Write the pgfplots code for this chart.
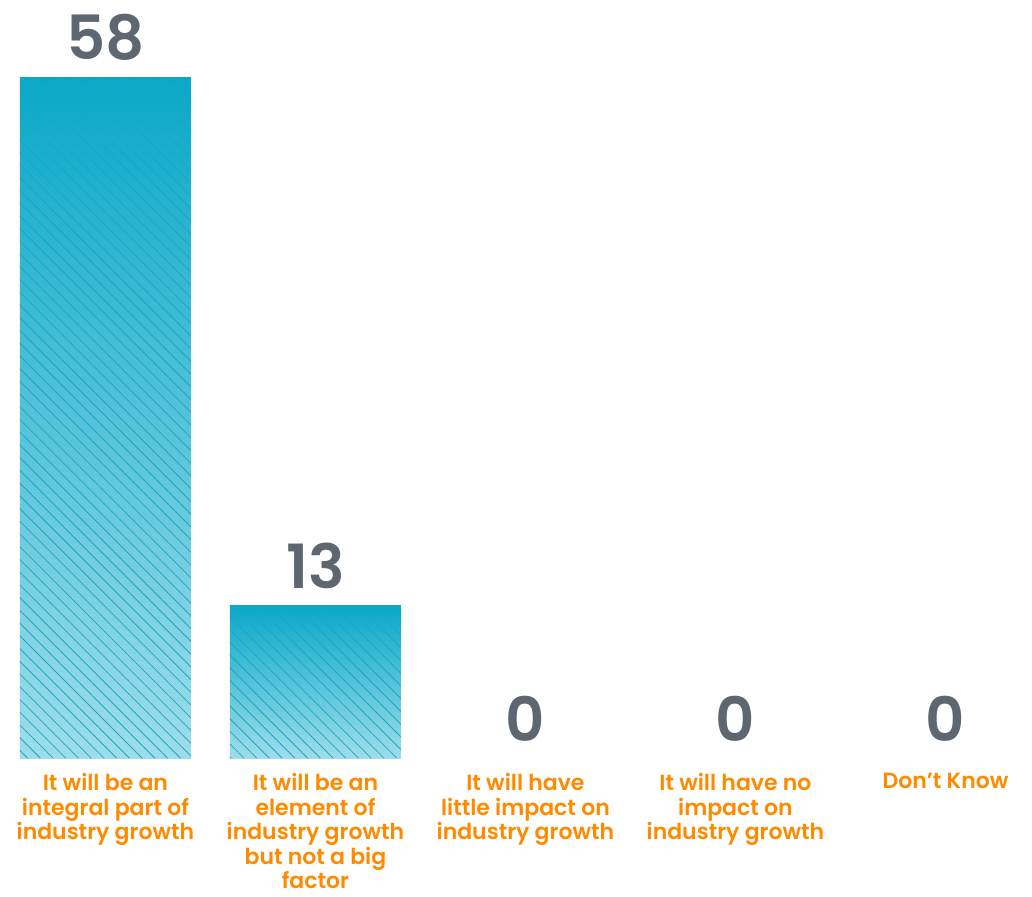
\documentclass[border=0pt]{standalone}
\usepackage{fontspec}
\setmainfont{Poppins}
\newfontfamily\numfont{Poppins SemiBold}
\usepackage{pgfplots}
\pgfplotsset{compat=1.18}
\usetikzlibrary{patterns.meta}
\definecolor{barDark}{HTML}{0AA8C8}
\definecolor{barLight}{HTML}{9EDDE9}
\definecolor{hatch}{HTML}{16A8C8}
\definecolor{numGray}{HTML}{5E6670}
\definecolor{labOrange}{HTML}{FF8A00}
\begin{document}
\begin{tikzpicture}
\path[use as bounding box] (0pt,-138pt) rectangle (1032pt,758pt);
\begin{axis}[
  at={(0pt,0pt)}, anchor=south west,
  scale only axis, width=1032pt, height=758pt,
  xmin=-0.502, xmax=4.412, ymin=0, ymax=64.57,
  axis line style={draw=none},
  ytick=\empty,
  xtick={0,1,2,3,4},
  major tick length=0pt,
  xticklabels={{It will be an\\integral part of\\industry growth},
               {It will be an\\element of\\industry growth\\but not a big\\factor},
               {It will have\\little impact on\\industry growth},
               {It will have no\\impact on\\industry growth},
               {Don’t Know}},
  xticklabel style={align=center, font=\numfont\fontsize{22}{24.6}\selectfont,
                    text=labOrange, inner sep=0pt, anchor=north, yshift=-15pt},
  clip=false,
  /pgf/number format/assume math mode=true,
  nodes near coords style={font=\numfont\fontsize{61}{61}\selectfont,
                    text=numGray, anchor=south, inner sep=0pt, yshift=16pt},
]
\addplot[ybar, bar width=171pt, bar shift=0pt, draw=none,
         top color=barDark, bottom color=barLight]
  coordinates {(0,58)};
\addplot[ybar, bar width=171pt, bar shift=0pt, draw=none,
         top color=barDark, bottom color=barLight]
  coordinates {(1,13)};
\addplot[ybar, bar width=171pt, bar shift=0pt, draw=none,
         pattern={Lines[angle=-45, distance=9pt, line width=0.8pt]}, pattern color=hatch,
         nodes near coords]
  coordinates {(0,58) (1,13)};
\addplot[only marks, mark=none, nodes near coords]
  coordinates {(2,0) (3,0) (4,0)};
\end{axis}
\end{tikzpicture}
\end{document}
